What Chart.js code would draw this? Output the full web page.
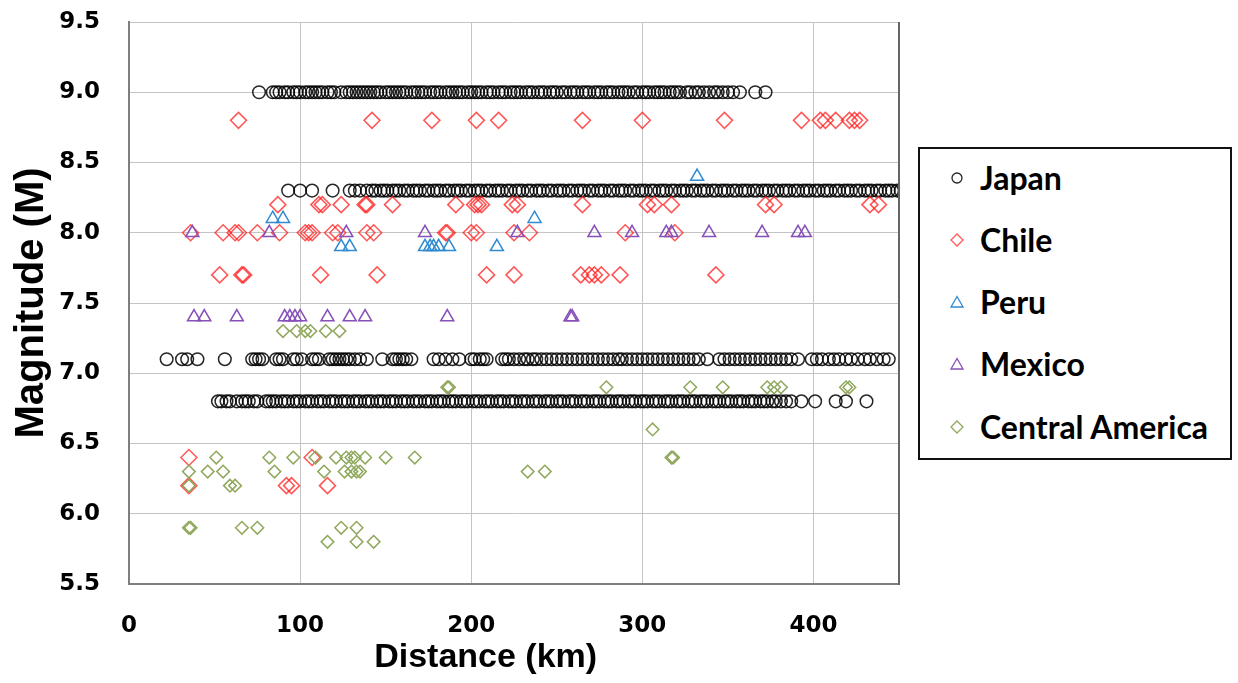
<!DOCTYPE html>
<html>
<head>
<meta charset="utf-8">
<script src="https://cdn.jsdelivr.net/npm/chart.js@4.4.0/dist/chart.umd.min.js"></script>
<style>
body { margin: 0; background: #fff; }
#wrap { position: relative; width: 1238px; height: 683px; }
#legend { position: absolute; left: 918px; top: 147px; width: 310px; height: 309px; border: 2px solid #111; background: #fff; }
.item { position: absolute; left: 30px; height: 40px; line-height: 40px; font-family: Lato, "Liberation Sans", sans-serif; font-weight: bold; font-size: 32px; color: #000; white-space: nowrap; }
.item svg { position: absolute; left: 0; top: 13px; }
.item span { position: absolute; left: 30px; top: 0; }
</style>
</head>
<body>
<div id="wrap">
<canvas id="quakeChart" width="1238" height="683"></canvas>
<div id="legend"></div>
</div>
<script>

// distance (km) of each event, grouped by magnitude row
var japan90 = [76, 84, 86, 88, 91, 93, 96, 98, 100, 103, 105, 107, 109, 111, 113, 116, 118, 120, 124, 127, 129, 131, 133, 135, 137, 139, 141, 143, 145, 147, 150, 152, 154, 156, 158, 160, 162, 165, 167, 169, 171, 173, 176, 178, 180, 182, 185, 187, 189, 191, 193, 195, 198, 200, 202, 204, 206, 209, 211, 213, 216, 218, 220, 223, 225, 227, 229, 232, 234, 236, 239, 241, 243, 246, 248, 250, 253, 255, 258, 260, 262, 265, 267, 269, 272, 274, 276, 279, 281, 283, 286, 288, 290, 292, 295, 297, 300, 302, 304, 307, 309, 311, 313, 316, 318, 320, 322, 326, 328, 331, 333, 336, 339, 342, 344, 347, 350, 353, 357, 366, 372];
var japan83 = [93, 100, 107, 119, 129, 132, 135, 139, 142, 144, 147, 149, 151, 154, 156, 158, 161, 163, 166, 168, 170, 173, 175, 178, 180, 182, 185, 187, 190, 192, 194, 197, 199, 202, 204, 206, 209, 211, 214, 216, 218, 221, 223, 226, 228, 230, 233, 235, 238, 240, 242, 245, 247, 250, 252, 254, 257, 259, 262, 264, 266, 269, 271, 274, 276, 278, 281, 283, 286, 288, 290, 293, 295, 298, 300, 302, 305, 307, 310, 312, 314, 317, 319, 322, 324, 326, 329, 331, 334, 336, 338, 341, 343, 346, 348, 350, 353, 355, 358, 360, 362, 365, 367, 370, 372, 374, 377, 379, 382, 384, 386, 389, 391, 394, 396, 398, 401, 403, 406, 408, 410, 413, 415, 418, 420, 422, 425, 427, 430, 432, 434, 437, 439, 442, 444, 446, 449, 451];
var japan71 = [22, 31, 34, 40, 56, 72, 74, 76, 78, 86, 88, 90, 96, 98, 101, 107, 109, 111, 117, 119, 121, 123, 125, 127, 129, 132, 135, 139, 148, 154, 156, 158, 160, 162, 165, 178, 181, 185, 189, 193, 200, 202, 205, 207, 209, 218, 220, 222, 225, 228, 231, 233, 236, 238, 241, 244, 247, 250, 253, 256, 259, 262, 265, 268, 271, 274, 277, 280, 283, 286, 288, 291, 294, 297, 300, 303, 306, 309, 312, 315, 318, 321, 324, 327, 330, 333, 338, 345, 348, 351, 354, 357, 360, 363, 366, 369, 372, 375, 378, 381, 384, 387, 391, 399, 402, 405, 409, 412, 415, 419, 422, 426, 430, 433, 437, 441, 444];
var japan68 = [52, 54, 57, 59, 63, 66, 68, 70, 73, 75, 80, 82, 84, 86, 89, 91, 93, 96, 98, 100, 103, 105, 107, 110, 112, 114, 117, 119, 121, 124, 126, 128, 131, 133, 135, 138, 140, 142, 145, 147, 149, 152, 154, 156, 159, 161, 163, 166, 168, 170, 173, 175, 177, 180, 182, 184, 187, 189, 191, 194, 196, 198, 201, 203, 205, 208, 210, 212, 215, 217, 219, 222, 224, 226, 229, 231, 233, 236, 238, 240, 243, 245, 247, 250, 252, 254, 257, 259, 261, 264, 266, 268, 271, 273, 275, 278, 280, 282, 285, 287, 289, 292, 294, 296, 299, 301, 303, 306, 308, 310, 313, 315, 317, 320, 322, 324, 327, 329, 331, 334, 336, 338, 341, 343, 345, 348, 350, 352, 355, 357, 359, 362, 364, 366, 369, 371, 373, 376, 378, 381, 384, 387, 393, 401, 413, 419, 431];

var chile88 = [64, 142, 177, 203, 216, 265, 300, 348, 393, 404, 407, 413, 421, 424, 427];
var chile82 = [87, 111, 113, 124, 138, 139, 154, 191, 202, 204, 206, 224, 227, 265, 303, 307, 317, 372, 377, 433, 438];
var chile80 = [36, 55, 62, 64, 75, 88, 103, 105, 107, 119, 122, 139, 143, 185, 186, 200, 203, 225, 234, 290, 319];
var chile77 = [53, 66, 67, 112, 145, 209, 225, 264, 269, 272, 276, 287, 343];
var chile64 = [35, 107];
var chile62 = [35, 92, 95, 116];

var peru84 = [332];
var peru81 = [84, 90, 237];
var peru79 = [124, 129, 173, 176, 178, 181, 187, 215];

var mexico80 = [37, 82, 127, 173, 227, 272, 294, 314, 317, 339, 370, 391, 395];
var mexico74 = [38, 44, 63, 91, 94, 97, 100, 116, 129, 138, 186, 258, 259];

var central73 = [90, 98, 103, 106, 115, 123];
var central69 = [186, 187, 279, 328, 347, 373, 377, 381, 419, 421];
var central66 = [306];
var central64 = [51, 82, 96, 109, 121, 127, 130, 132, 138, 150, 167, 317, 318];
var central63 = [35, 46, 55, 85, 114, 126, 130, 133, 135, 233, 243];
var central62 = [35, 59, 62];
var central59 = [35, 36, 66, 75, 124, 133];
var central58 = [116, 133, 143];

var seriesNames = ['Japan', 'Chile', 'Peru', 'Mexico', 'Central America'];
var seriesColors = ['rgba(0,0,0,0.85)', 'rgba(255,30,30,0.75)', '#2f8bd2', '#8650b8', '#8fa85c'];
var seriesShapes = ['circle', 'rectRot', 'triangle', 'triangle', 'rectRot'];
var seriesRadius = [6.3, 8, 7.5, 7.5, 6.3];

var xTicks = [0, 100, 200, 300, 400];

function row(xs, m) {
    return xs.map(function(x) { return { x: x, y: m }; });
}

var seriesData = [
    row(japan90, 9.0).concat(row(japan83, 8.3), row(japan71, 7.1), row(japan68, 6.8)),
    row(chile88, 8.8).concat(row(chile82, 8.2), row(chile80, 8.0), row(chile77, 7.7), row(chile64, 6.4), row(chile62, 6.2)),
    row(peru84, 8.4).concat(row(peru81, 8.1), row(peru79, 7.9)),
    row(mexico80, 8.0).concat(row(mexico74, 7.4)),
    row(central73, 7.3).concat(row(central69, 6.9), row(central66, 6.6), row(central64, 6.4), row(central63, 6.3), row(central62, 6.2), row(central59, 5.9), row(central58, 5.8))
];

var datasets = seriesNames.map(function(name, i) {
    return {
        label: name,
        data: seriesData[i],
        pointStyle: seriesShapes[i],
        pointRadius: seriesRadius[i],
        pointHoverRadius: seriesRadius[i],
        pointBorderWidth: 1.5,
        borderColor: seriesColors[i],
        backgroundColor: 'rgba(0,0,0,0)',
        order: seriesNames.length - i
    };
});

// right edge of the plot box
var plotFrame = {
    id: 'plotFrame',
    afterDraw: function(chart) {
        var a = chart.chartArea;
        var ctx = chart.ctx;
        ctx.save();
        ctx.strokeStyle = '#666';
        ctx.lineWidth = 2;
        ctx.beginPath();
        ctx.moveTo(a.right, a.top);
        ctx.lineTo(a.right, a.bottom + 1);
        ctx.stroke();
        ctx.restore();
    }
};

var tickFont = { family: '"DejaVu Sans", Verdana, sans-serif', weight: 'bold', size: 23 };
var xTitleFont = { family: '"Liberation Sans", Arial, sans-serif', weight: 'bold', size: 34 };
var yTitleFont = { family: '"Liberation Sans", Arial, sans-serif', weight: 'bold', size: 40 };

new Chart(document.getElementById('quakeChart'), {
    type: 'scatter',
    data: { datasets: datasets },
    plugins: [plotFrame],
    options: {
        responsive: false,
        animation: false,
        layout: { padding: { left: 0, right: 339, top: 22, bottom: 0 } },
        plugins: { legend: { display: false }, tooltip: { enabled: false } },
        scales: {
            x: {
                type: 'linear',
                min: 0,
                max: 450,
                afterFit: function(scale) { scale.height = 99; },
                afterBuildTicks: function(scale) {
                    scale.ticks = xTicks.map(function(v) { return { value: v }; });
                },
                ticks: { font: tickFont, color: '#000', padding: 28, autoSkip: false, maxRotation: 0 },
                grid: { color: '#c4c4c4', lineWidth: 1, drawTicks: false },
                border: { color: '#7f7f7f', width: 2 },
                title: { display: true, text: 'Distance (km)\u00a0\u00a0\u00a0\u00a0\u00a0\u00a0', font: xTitleFont, color: '#000', padding: { top: 0, bottom: 5 } }
            },
            y: {
                type: 'linear',
                min: 5.5,
                max: 9.5,
                afterFit: function(scale) {
                    scale.width = 129;
                    scale.paddingTop = 0;
                    scale.paddingBottom = 0;
                },
                ticks: {
                    stepSize: 0.5,
                    font: tickFont,
                    color: '#000',
                    padding: 29,
                    callback: function(v) { return v.toFixed(1); }
                },
                grid: { color: '#c4c4c4', lineWidth: 1, drawTicks: false },
                border: { color: '#7f7f7f', width: 2 },
                title: { display: true, text: 'Magnitude (M)', font: yTitleFont, color: '#000', padding: { top: 8, bottom: 0 } }
            }
        }
    }
});

// legend box
var legendEl = document.getElementById('legend');
var rowTops = [9, 71, 133, 195, 258];
seriesNames.forEach(function(name, i) {
    var c = seriesColors[i];
    var shape;
    if (seriesShapes[i] == 'circle') {
        shape = '<circle cx="7" cy="7" r="5" fill="none" stroke="' + c + '" stroke-width="1.3"/>';
    } else if (seriesShapes[i] == 'triangle') {
        shape = '<polygon points="7,1.5 13,12 1,12" fill="none" stroke="' + c + '" stroke-width="1.3"/>';
    } else {
        shape = '<polygon points="7,1 13,7 7,13 1,7" fill="none" stroke="' + c + '" stroke-width="1.3"/>';
    }
    var div = document.createElement('div');
    div.className = 'item';
    div.style.top = rowTops[i] + 'px';
    div.innerHTML = '<svg width="14" height="14">' + shape + '</svg><span>' + name + '</span>';
    legendEl.appendChild(div);
});

</script>
</body>
</html>
